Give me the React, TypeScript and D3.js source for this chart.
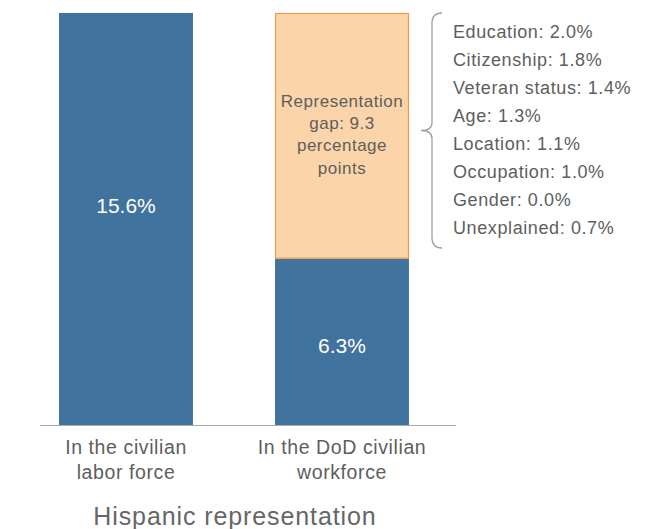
import React from "react";
import * as d3 from "d3";

const categories = ["civilian", "dod"];
const categoryLabels = [["In the civilian", "labor force"], ["In the DoD civilian", "workforce"]];
const hispanicShare = [15.6, 6.3];
const gapValue = 9.3;
const gapLines = ["Representation", "gap: 9.3", "percentage", "points"];
const factorNames = ["Education", "Citizenship", "Veteran status", "Age", "Location", "Occupation", "Gender", "Unexplained"];
const factorValues = [2.0, 1.8, 1.4, 1.3, 1.1, 1.0, 0.0, 0.7];
const title = "Hispanic representation";

const W = 646;
const H = 529;
const FONT = "'Liberation Sans', Arial, Helvetica, sans-serif";
const BLUE = "#41739f";
const ORANGE_FILL = "#fcd4a9";
const ORANGE_STROKE = "#f29a45";
const TEXT = "#5e5e5e";

export default function App() {
  const x = d3.scaleBand<string>().domain(categories).range([18, 450]).paddingInner(0.38).paddingOuter(0.19);
  const y = d3.scaleLinear().domain([0, 15.6]).range([425, 13]);
  const bw = x.bandwidth();

  const dodX = x("dod")!;
  const gapTop = y(hispanicShare[1] + gapValue);
  const gapBottom = y(hispanicShare[1]);
  const labelFrac = [0.534, 0.481];

  const bx = 432, bTop = gapTop, bBot = 248, bMid = (bTop + bBot) / 2;
  const r = 10;
  const bracket = `M ${bx + 10} ${bTop} Q ${bx} ${bTop} ${bx} ${bTop + r} L ${bx} ${bMid - 8} Q ${bx} ${bMid} ${bx - 11} ${bMid} Q ${bx} ${bMid} ${bx} ${bMid + 8} L ${bx} ${bBot - r} Q ${bx} ${bBot} ${bx + 10} ${bBot}`;

  return (
    <svg width={W} height={H} style={{ position: "absolute", left: 0, top: 0 }} fontFamily={FONT}>
      <rect x={0} y={0} width={W} height={H} fill="#fff" />
      {categories.map((c, i) => (
        <g key={c}>
          <rect x={x(c)} y={y(hispanicShare[i])} width={bw} height={y(0) - y(hispanicShare[i])} fill={BLUE} />
          <text
            x={x(c)! + bw / 2}
            y={y(hispanicShare[i] * labelFrac[i]) + 7.6}
            fill="#fff"
            fontSize={21}
            textAnchor="middle"
          >
            {hispanicShare[i].toFixed(1)}%
          </text>
          {categoryLabels[i].map((l, j) => (
            <text key={j} x={x(c)! + bw / 2} y={454 + j * 25} fill={TEXT} fontSize={19.5} letterSpacing={0.6} textAnchor="middle">
              {l}
            </text>
          ))}
        </g>
      ))}
      <rect x={dodX + 0.5} y={gapTop + 0.5} width={bw - 1} height={gapBottom - gapTop - 1} fill={ORANGE_FILL} stroke={ORANGE_STROKE} strokeWidth={1.2} />
      {gapLines.map((l, i) => (
        <text key={i} x={dodX + bw / 2} y={107 + i * 22.2} fill={TEXT} fontSize={17} letterSpacing={0.5} textAnchor="middle">
          {l}
        </text>
      ))}
      <line x1={40} x2={456} y1={y(0) + 0.5} y2={y(0) + 0.5} stroke="#a8a8a8" strokeWidth={1.2} />
      <path d={bracket} fill="none" stroke="#a0a0a0" strokeWidth={1.3} />
      {factorNames.map((n, i) => (
        <text key={n} x={453} y={37.5 + i * 28} fill={TEXT} fontSize={18} letterSpacing={0.6}>
          {n}: {factorValues[i].toFixed(1)}%
        </text>
      ))}
      <text x={235} y={525} fill="#666" fontSize={25} letterSpacing={0.9} textAnchor="middle">
        {title}
      </text>
    </svg>
  );
}
